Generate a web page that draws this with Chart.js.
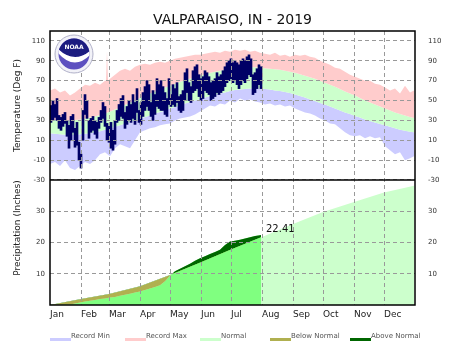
<!DOCTYPE html>
<html>
<head>
<meta charset="utf-8">
<script src="https://cdn.jsdelivr.net/npm/chart.js@4.4.0/dist/chart.umd.min.js"></script>
<style>
  body { margin: 0; background: #fff; }
  #wrap { position: relative; width: 465px; height: 345px; }
  .lg { position: absolute; top: 332px; height: 9px; font: 7px "DejaVu Sans", sans-serif; line-height: 9px; color: #555; white-space: nowrap; }
  .lg i { position: absolute; left: 0; top: 6px; width: 21px; height: 3px; }
  .lg span { position: absolute; left: 21px; top: 0; }
</style>
</head>
<body>
<div id="wrap">
  <canvas id="chart" width="465" height="345"></canvas>
  <div class="lg" style="left:50px"><i style="background:#ccccff"></i><span>Record Min</span></div>
  <div class="lg" style="left:125px"><i style="background:#ffcccc"></i><span>Record Max</span></div>
  <div class="lg" style="left:200px"><i style="background:#ccffcc"></i><span>Normal</span></div>
  <div class="lg" style="left:270px"><i style="background:#b0b050"></i><span>Below Normal</span></div>
  <div class="lg" style="left:350px"><i style="background:#006600"></i><span>Above Normal</span></div>
</div>
<script>
// month ticks
const months = ['Jan','Feb','Mar','Apr','May','Jun','Jul','Aug','Sep','Oct','Nov','Dec'];
const monthStartDays = [0,31,59,90,120,151,181,212,243,273,304,334];
const tempTicks = [-30,-10,10,30,50,70,90,110];
const precipTicks = [10,20,30];

// climate records / normals, sampled every 5 days (day of year)
const gridDays = [0,5,10,15,20,25,30,35,40,45,50,55,60,65,70,75,80,85,90,95,100,105,110,115,120,125,130,135,140,145,150,155,160,165,170,175,180,185,190,195,200,205,210,215,220,225,230,235,240,245,250,255,260,265,270,275,280,285,290,295,300,305,310,315,320,325,330,335,340,345,350,355,360,364];
const recordMaxDays = [0,5,10,15,20,25,30,35,40,45,50,55,56,57,58,60,65,70,75,80,85,90,95,100,105,110,115,120,125,130,135,140,145,150,155,160,165,170,175,180,185,190,195,200,205,210,215,220,225,230,235,240,245,250,255,260,265,270,275,280,285,290,295,300,305,310,315,320,325,330,335,340,345,350,355,360,364];
const recordMaxTemps = [60,62,58,60,55,58,62,66,65,68,66,70,70,100,70,72,76,80,82,80,84,86,87,86,88,89,88,90,92,93,94,95,96,96,97,98,99,98,100,99,101,100,101,99,100,98,97,96,98,95,96,94,96,95,96,94,93,90,88,86,83,82,79,76,74,72,70,70,67,66,63,60,62,57,65,58,60];
const recordMinTemps = [-14,-12,-16,-10,-18,-20,-16,-12,-14,-10,-4,-2,-6,2,6,4,2,10,18,20,22,23,25,26,27,30,32,33,34,36,39,42,45,44,47,46,50,48,52,50,51,49,48,46,47,45,46,44,45,42,40,38,37,35,32,30,27,26,22,18,15,14,15,12,14,12,13,4,0,-4,-2,-10,-8,-6];
const normalHighTemps = [31,30.5,30,30,30,30.5,31,32,33,34,35.5,37,39,41,43,45.5,48,50,52.5,55,57,59,61,63,65,67,69,70.5,72,73.5,75,76.5,78,79,80,81,82,82.5,83,83.5,83.5,83.5,83,82.5,82,81.5,81,80,79,78,76.5,75,73.5,72,70,68,66,64,61.5,59,57,55,52.5,50,48,46,44,42,40,38,36.5,35,33.5,32.5];
const normalLowTemps = [17,16.5,16,15.5,15.5,15.5,16,16.5,17,18,19,20.5,22,23.5,25,27,28.5,30,32,33.5,35,37,38.5,40,42,43.5,45,47,48.5,50,51.5,53,54.5,56,57,58,59.5,60.5,61,61.5,62,62,62,61.5,61,60,59.5,58.5,57.5,56,54.5,53,51,49.5,47.5,46,44,42,40,38,36.5,34.5,33,31,29.5,28,26.5,25,23.5,22,20.5,19.5,18.5,18];

// observed 2019 highs / lows, two-day steps from Jan 1 to Jul 31
const obsHighTemps = [45,50,46,52,35,33,36,38,30,25,34,36,22,28,8,-4,
  40,56,50,30,32,34,30,28,33,40,48,44,27,24,
  28,20,30,40,46,52,55,38,44,50,46,56,48,62,40,
  48,58,64,70,66,48,60,56,72,66,70,64,58,52,72,
  56,66,62,68,54,56,60,78,82,68,64,80,84,86,76,72,
  74,80,78,74,68,70,72,78,74,76,80,84,88,90,92,
  88,90,88,86,90,92,90,94,96,92,76,78,82,86,84];
const obsLowTemps = [28,30,33,30,22,20,24,27,14,2,10,18,3,5,-10,-18,
  10,36,32,12,18,20,16,12,22,28,32,24,10,8,
  2,0,6,28,30,34,32,22,26,30,28,32,26,38,28,
  26,34,40,44,40,34,30,36,44,42,40,40,36,34,46,
  44,46,44,48,40,38,40,50,58,50,48,58,60,62,54,50,
  52,60,58,56,50,52,54,58,56,58,60,64,68,70,72,
  68,70,66,62,66,70,68,72,76,74,56,58,62,66,62];

// cumulative precipitation (inches)
const normalPrecipDays = [0,31,59,90,120,151,181,212,243,273,304,334,364];
const normalPrecipCum = [0,1.9,3.5,6.0,9.6,13.7,17.8,21.8,25.9,29.8,33.0,36.0,38.2];
const obsPrecipDays = [0,5,10,15,20,25,30,35,40,45,50,55,60,65,70,75,80,85,90,95,100,105,110,115,120,125,130,135,140,145,150,155,160,165,170,175,180,185,190,195,200,205,210,211];
const obsPrecipCum = [0,0.05,0.1,0.15,0.2,0.5,0.8,1.1,1.4,1.6,1.9,2.1,2.4,2.6,3.0,3.3,3.6,4.0,4.3,4.8,5.3,5.8,6.3,7.6,9.4,10.8,11.6,12.4,13.2,14.2,15.0,15.6,16.3,17.0,17.7,19.2,20.3,20.6,20.9,21.3,21.7,22.1,22.3,22.41];

const FONT = '"DejaVu Sans", sans-serif';
Chart.defaults.font.family = FONT;

const pts = (days, vals) => vals.map((v, i) => ({x: days[i], y: v}));
const area = (label, data, fill, color, yAxisID, order) => ({
  type: 'line', label, data, fill, backgroundColor: color,
  borderColor: 'transparent', borderWidth: 0, pointRadius: 0, pointHoverRadius: 0,
  tension: 0, yAxisID, order
});

const extras = {
  id: 'extras',
  afterDraw(chart) {
    const {ctx, chartArea: a, scales} = chart;
    ctx.save();
    // frame + panel divider
    ctx.strokeStyle = '#000';
    ctx.lineWidth = 1.5;
    ctx.strokeRect(a.left, a.top, a.right - a.left, a.bottom - a.top);
    const yd = scales.y.bottom;
    ctx.beginPath(); ctx.moveTo(a.left, yd); ctx.lineTo(a.right, yd); ctx.stroke();

    // year-to-date total
    const last = obsPrecipCum.length - 1;
    const px = scales.x.getPixelForValue(obsPrecipDays[last]);
    const py = scales.yP.getPixelForValue(obsPrecipCum[last]);
    ctx.fillStyle = '#111';
    ctx.font = '10px ' + FONT;
    ctx.textAlign = 'left';
    ctx.textBaseline = 'alphabetic';
    ctx.fillText(obsPrecipCum[last].toFixed(2), px + 5, py - 3);

    // axis titles
    ctx.font = '9px ' + FONT;
    ctx.textAlign = 'center';
    ctx.textBaseline = 'middle';
    ctx.fillStyle = '#222';
    [['Temperature (Deg F)', (scales.y.top + scales.y.bottom) / 2],
     ['Precipitation (Inches)', 228]].forEach(([t, cy]) => {
      ctx.save(); ctx.translate(18, cy); ctx.rotate(-Math.PI / 2); ctx.fillText(t, 0, 0); ctx.restore();
    });

    // NOAA badge
    const cx = 74, cy = 54;
    ctx.beginPath(); ctx.arc(cx, cy, 19, 0, 2 * Math.PI);
    ctx.fillStyle = '#f2f2f8'; ctx.fill();
    ctx.strokeStyle = '#b0b0c8'; ctx.lineWidth = 1; ctx.stroke();
    ctx.save();
    ctx.beginPath(); ctx.arc(cx, cy, 15.5, 0, 2 * Math.PI); ctx.clip();
    ctx.fillStyle = '#5d50c0'; ctx.fillRect(cx - 16, cy - 16, 32, 32);
    ctx.fillStyle = '#1c1c80';
    ctx.beginPath(); ctx.moveTo(cx - 16, cy - 16); ctx.lineTo(cx + 16, cy - 16); ctx.lineTo(cx + 16, cy - 3);
    ctx.quadraticCurveTo(cx, cy + 10, cx - 16, cy - 5); ctx.closePath(); ctx.fill();
    ctx.fillStyle = '#fff';
    ctx.beginPath(); ctx.moveTo(cx - 16, cy - 5); ctx.quadraticCurveTo(cx, cy + 10, cx + 16, cy - 3);
    ctx.lineTo(cx + 16, cy + 1); ctx.quadraticCurveTo(cx, cy + 17, cx - 16, cy - 1); ctx.closePath(); ctx.fill();
    ctx.restore();
    ctx.fillStyle = '#fff'; ctx.font = 'bold 6px ' + FONT; ctx.textAlign = 'center'; ctx.textBaseline = 'middle';
    ctx.fillText('NOAA', cx, cy - 7);
    ctx.restore();
  }
};

const gridOpts = { color: '#999', lineWidth: 1, drawTicks: false, z: 1 };
const dashed = { display: false, dash: [4, 3] };
const tickFont = { size: 7 };

new Chart(document.getElementById('chart'), {
  type: 'line',
  data: {
    datasets: [
      { type: 'bar', label: 'Observed', yAxisID: 'y', order: 0,
        data: obsHighTemps.map((h, i) => ({x: 2 * i + 1, y: [obsLowTemps[i], h]})),
        backgroundColor: '#000066', barThickness: 2, grouped: false },
      area('Record Max', pts(recordMaxDays, recordMaxTemps), 2, '#ffcccc', 'y', 9),
      area('Normal High', pts(gridDays, normalHighTemps), 3, '#ccffcc', 'y', 9),
      area('Normal Low', pts(gridDays, normalLowTemps), 4, '#ccccff', 'y', 9),
      area('Record Min', pts(gridDays, recordMinTemps), false, 'transparent', 'y', 9),
      area('Normal', pts(normalPrecipDays, normalPrecipCum), 'origin', '#ccffcc', 'yP', 8),
      area('Observed', pts(obsPrecipDays, obsPrecipCum), 'origin', '#80ff80', 'yP', 7),
      area('Departure', pts(obsPrecipDays, obsPrecipCum),
        {target: 5, above: '#006600', below: '#b0b050'}, 'transparent', 'yP', 6)
    ]
  },
  options: {
    responsive: false,
    animation: false,
    devicePixelRatio: 1,
    layout: { padding: 0 },
    plugins: {
      legend: { display: false },
      tooltip: { enabled: false },
      title: { display: true, text: 'VALPARAISO, IN - 2019', color: '#111',
        font: { size: 14, weight: 'normal' }, padding: { top: 12, bottom: 2.2 } }
    },
    scales: {
      x: { type: 'linear', min: 0, max: 365, offset: false,
        afterFit: s => { s.height = 40; },
        afterBuildTicks: s => { s.ticks = monthStartDays.map(v => ({value: v})); },
        grid: { ...gridOpts, offset: false, color: c => c.tick && c.tick.value === 0 ? 'transparent' : '#999' },
        border: dashed,
        ticks: { align: 'start', autoSkip: false, maxRotation: 0, padding: 4, color: '#222',
          font: { size: 9 }, callback: (v, i) => months[i] } },
      y: { type: 'linear', position: 'left', stack: 'L', stackWeight: 149, weight: 2,
        min: -30, max: 120,
        afterFit: s => { s.width = 50; },
        afterBuildTicks: s => { s.ticks = tempTicks.map(v => ({value: v})); },
        grid: gridOpts, border: dashed,
        ticks: { padding: 5, color: '#333', font: tickFont } },
      yP: { type: 'linear', position: 'left', stack: 'L', stackWeight: 125, weight: 1,
        min: 0, max: 40,
        afterFit: s => { s.width = 50; },
        afterBuildTicks: s => { s.ticks = precipTicks.map(v => ({value: v})); },
        grid: gridOpts, border: dashed,
        ticks: { padding: 5, color: '#333', font: tickFont } },
      yR: { type: 'linear', position: 'right', stack: 'R', stackWeight: 149, weight: 1,
        min: -30, max: 120,
        afterFit: s => { s.width = 50; },
        afterBuildTicks: s => { s.ticks = tempTicks.map(v => ({value: v})); },
        grid: { display: false }, border: { display: false },
        ticks: { padding: 5, color: '#333', font: tickFont } },
      yPR: { type: 'linear', position: 'right', stack: 'R', stackWeight: 125, weight: 2,
        min: 0, max: 40,
        afterFit: s => { s.width = 50; },
        afterBuildTicks: s => { s.ticks = precipTicks.map(v => ({value: v})); },
        grid: { display: false }, border: { display: false },
        ticks: { padding: 5, color: '#333', font: tickFont } }
    }
  },
  plugins: [extras]
});
</script>
</body>
</html>
